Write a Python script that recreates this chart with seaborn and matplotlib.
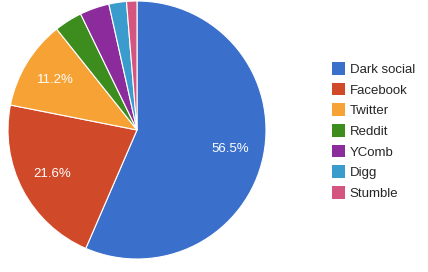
import matplotlib
matplotlib.use("Agg")
import matplotlib.pyplot as plt
import seaborn as sns
from matplotlib.patches import Patch

categories = ["Dark social", "Facebook", "Twitter", "Reddit", "YComb", "Digg", "Stumble"]
shares = [56.5, 21.6, 11.2, 3.5, 3.7, 2.2, 1.3]
colors = ["#3a6fcc", "#d04a2a", "#f7a234", "#3c8c1e", "#8c2c9c", "#3a9ccc", "#d45580"]

sns.set_theme(style="white")
plt.rcParams["font.family"] = ["Liberation Sans", "DejaVu Sans"]
palette = sns.color_palette(colors)

W, H = 428, 272
fig = plt.figure(figsize=(W / 100, H / 100), dpi=100)
cx, cy, R = 137, 130, 129
ax = fig.add_axes([(cx - R) / W, (H - cy - R) / H, 2 * R / W, 2 * R / H])

def fmt(p):
    return f"{p:.1f}%" if p >= 5 else ""

wedges, texts, autotexts = ax.pie(
    shares,
    colors=palette,
    startangle=90,
    counterclock=False,
    autopct=fmt,
    pctdistance=0.74,
    wedgeprops=dict(edgecolor="white", linewidth=0.8),
    textprops=dict(color="white", fontsize=9.5),
)
ax.set_aspect("equal")
ax.set_xlim(-1.0, 1.0)
ax.set_ylim(-1.0, 1.0)

handles = [Patch(facecolor=c, edgecolor="none") for c in palette]
fig.legend(
    handles, categories,
    loc="upper left",
    bbox_to_anchor=(332 / W, 1 - 62 / H),
    frameon=False,
    prop=dict(size=9.5),
    handlelength=0.95,
    handleheight=1.1,
    handletextpad=0.4,
    labelspacing=0.52,
    borderaxespad=0,
    borderpad=0,
)

fig.savefig("out.png", dpi=100, facecolor="white")
